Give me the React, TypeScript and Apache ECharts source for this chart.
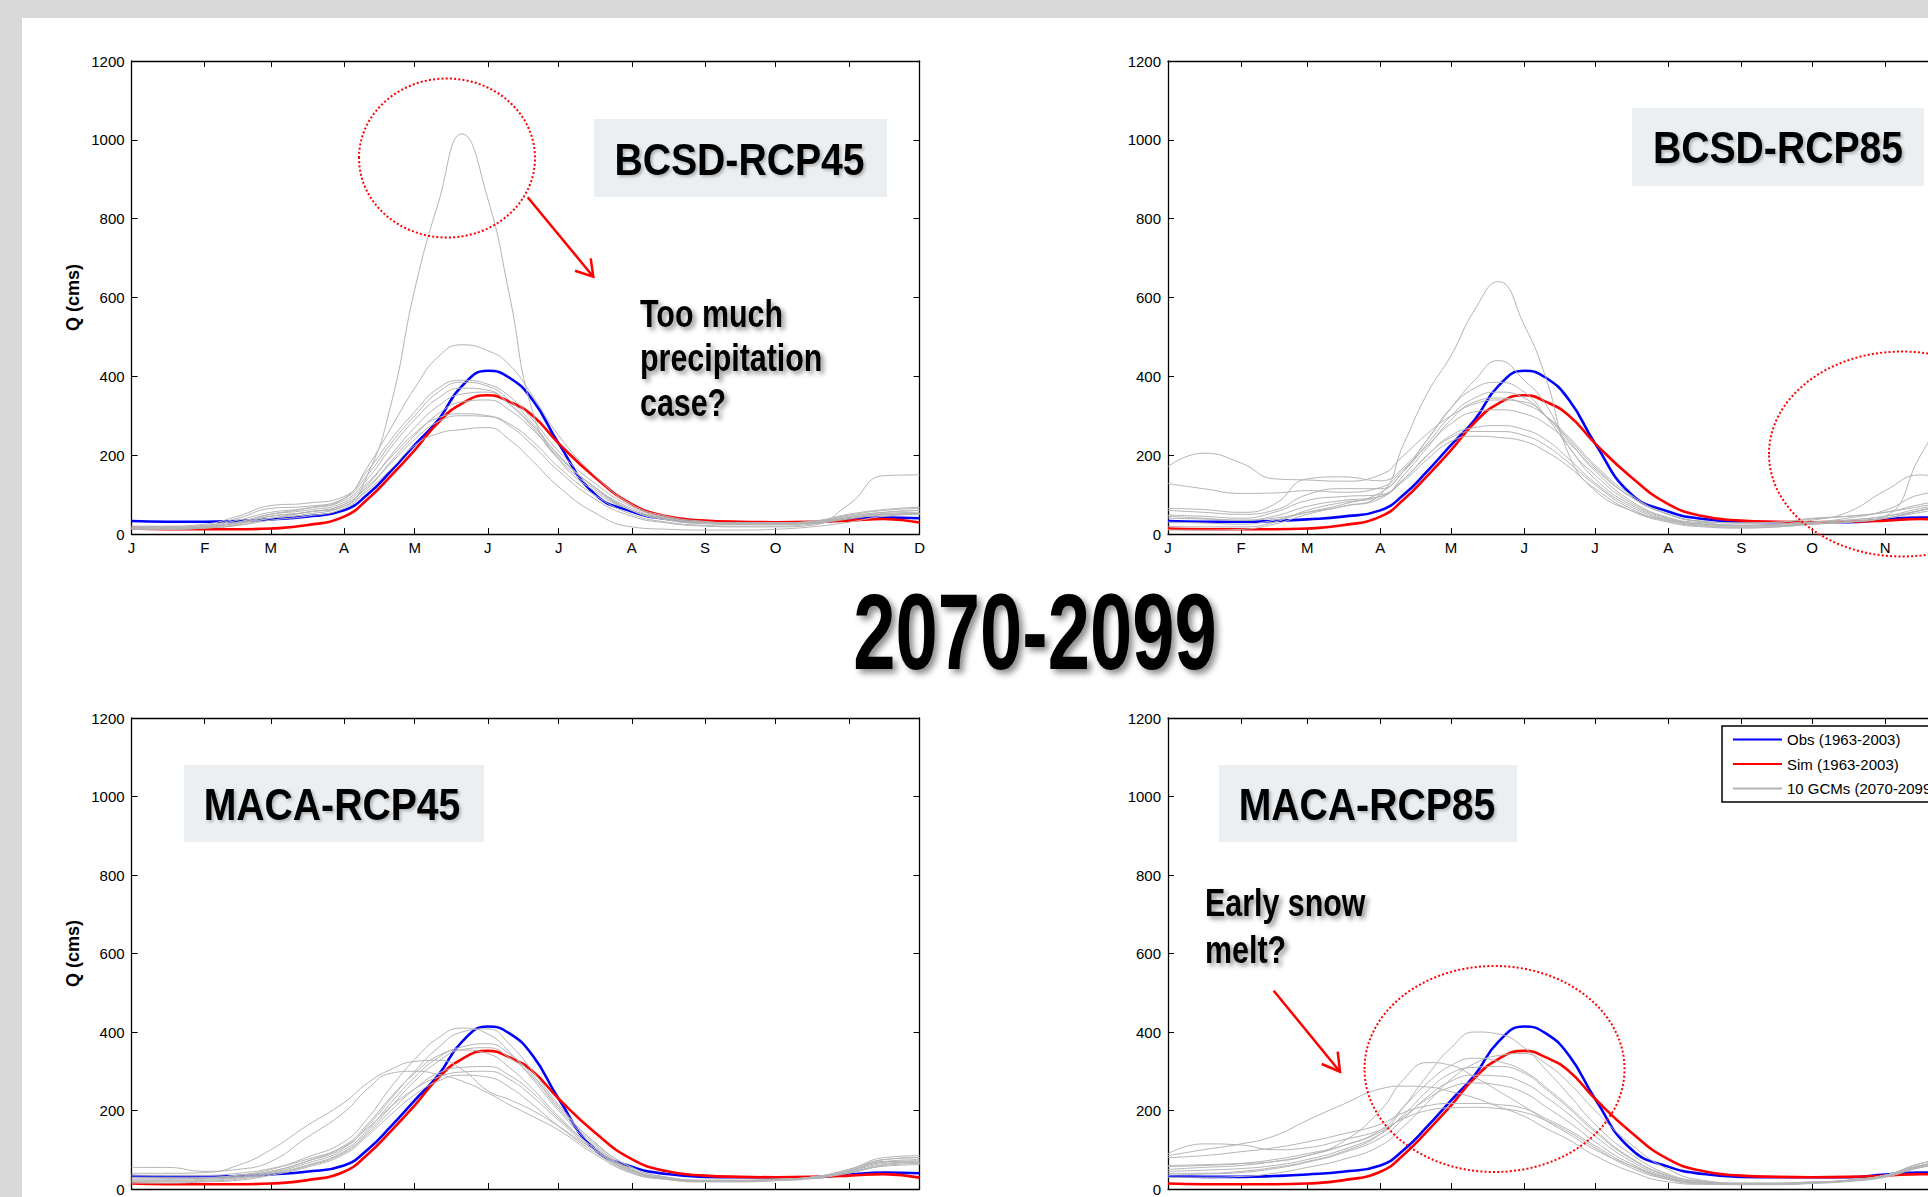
import React, { useEffect, useRef } from "react";
import * as echarts from "echarts";

// ---------------- data ----------------
// day of year (0 = Jan 1) at which every curve was read
const days = [0, 15, 31, 45, 59, 74, 90, 100, 110, 120, 130, 140, 151, 160, 170, 181, 196, 212, 227, 243, 258, 273, 288, 304, 319, 334];
const monthTicks = [0, 31, 59, 90, 120, 151, 181, 212, 243, 273, 304, 334];
const monthLabels = ["J", "F", "M", "A", "M", "J", "J", "A", "S", "O", "N", "D"];

const obsQ = [33, 31, 31, 33, 37, 44, 60, 100, 160, 226, 290, 375, 414, 397, 340, 230, 103, 57, 38, 31, 30, 30, 30, 37, 42, 40];
const simQ = [14, 12, 12, 12, 14, 22, 44, 88, 148, 213, 283, 331, 352, 336, 300, 230, 146, 76, 45, 34, 31, 30, 31, 34, 38, 29];

const gcmBcsd45 = [
  [20, 18, 20, 28, 40, 55, 70, 150, 330, 620, 840, 1015, 850, 611, 310, 190, 110, 60, 40, 30, 28, 28, 30, 40, 50, 50],
  [15, 15, 18, 30, 50, 65, 90, 170, 270, 370, 450, 480, 465, 430, 350, 250, 150, 75, 45, 32, 28, 28, 30, 45, 55, 60],
  [20, 20, 25, 45, 72, 78, 95, 160, 240, 310, 370, 390, 380, 350, 290, 210, 130, 70, 42, 30, 28, 28, 32, 50, 62, 68],
  [18, 18, 22, 40, 65, 70, 90, 150, 230, 300, 360, 385, 375, 340, 280, 200, 120, 65, 40, 30, 28, 28, 32, 48, 60, 65],
  [15, 15, 20, 35, 55, 65, 85, 140, 220, 290, 345, 370, 365, 330, 270, 190, 115, 60, 38, 28, 26, 26, 30, 45, 55, 60],
  [12, 12, 15, 25, 45, 55, 75, 125, 200, 270, 325, 355, 360, 330, 275, 200, 120, 60, 36, 27, 25, 25, 28, 42, 52, 55],
  [12, 12, 15, 22, 40, 50, 70, 115, 185, 250, 305, 335, 340, 315, 265, 195, 120, 60, 36, 26, 24, 24, 27, 40, 50, 52],
  [15, 15, 18, 30, 50, 60, 80, 130, 195, 255, 295, 305, 300, 280, 235, 170, 100, 50, 30, 22, 20, 20, 25, 38, 48, 50],
  [15, 15, 18, 28, 45, 55, 75, 120, 180, 240, 285, 300, 298, 275, 225, 160, 90, 45, 28, 20, 18, 18, 22, 75, 148, 150],
  [14, 14, 16, 22, 35, 45, 65, 110, 165, 225, 255, 265, 270, 240, 185, 120, 55, 18, 12, 10, 10, 12, 18, 30, 45, 50],
];

const gcmBcsd85 = [
  [45, 40, 35, 40, 55, 70, 100, 230, 358, 453, 569, 640, 530, 399, 200, 110, 60, 35, 25, 22, 25, 30, 35, 45, 60, 80],
  [30, 28, 25, 35, 55, 75, 105, 160, 240, 320, 390, 440, 390, 330, 220, 150, 80, 40, 25, 20, 22, 25, 30, 40, 60, 85],
  [171, 205, 180, 140, 137, 134, 150, 200, 255, 300, 330, 340, 335, 300, 240, 170, 95, 50, 32, 28, 30, 40, 45, 55, 75, 90],
  [128, 115, 103, 104, 110, 106, 118, 165, 225, 280, 310, 315, 305, 280, 230, 165, 95, 50, 32, 28, 30, 38, 45, 55, 70, 85],
  [65, 62, 55, 75, 140, 145, 135, 170, 240, 320, 370, 385, 360, 300, 220, 140, 75, 38, 25, 22, 25, 35, 55, 110, 150, 120],
  [60, 55, 50, 60, 100, 115, 115, 160, 230, 300, 345, 360, 345, 300, 235, 160, 85, 42, 28, 22, 24, 30, 40, 60, 100, 110],
  [48, 45, 40, 55, 85, 95, 100, 140, 200, 250, 270, 275, 265, 240, 190, 130, 70, 35, 22, 18, 20, 28, 35, 45, 65, 80],
  [40, 38, 35, 45, 70, 85, 95, 140, 200, 245, 260, 260, 250, 225, 180, 125, 65, 32, 20, 16, 18, 25, 32, 40, 60, 75],
  [19, 18, 18, 30, 60, 80, 95, 135, 190, 235, 248, 245, 235, 210, 170, 115, 60, 30, 18, 15, 18, 25, 30, 40, 55, 70],
  [10, 10, 12, 25, 50, 70, 90, 150, 220, 290, 335, 345, 330, 300, 245, 175, 100, 50, 30, 22, 22, 26, 30, 45, 200, 350],
];

const gcmMaca45 = [
  [40, 40, 42, 60, 100, 160, 220, 270, 305, 325, 328, 305, 250, 228, 200, 160, 100, 45, 28, 22, 22, 24, 28, 45, 70, 65],
  [55, 55, 45, 50, 70, 130, 195, 255, 295, 300, 292, 275, 245, 215, 185, 150, 90, 40, 25, 20, 20, 22, 28, 45, 75, 80],
  [30, 30, 30, 35, 50, 80, 120, 180, 260, 330, 385, 410, 395, 350, 280, 200, 110, 50, 28, 22, 22, 24, 30, 50, 80, 85],
  [25, 25, 28, 35, 45, 70, 105, 160, 230, 300, 360, 400, 408, 370, 300, 215, 120, 55, 30, 22, 22, 25, 30, 50, 75, 80],
  [22, 22, 25, 30, 42, 65, 100, 150, 220, 285, 335, 362, 370, 345, 290, 210, 120, 55, 30, 22, 22, 24, 30, 48, 70, 75],
  [20, 20, 22, 28, 40, 60, 95, 145, 210, 275, 325, 355, 360, 335, 285, 205, 115, 50, 28, 21, 21, 24, 30, 45, 65, 70],
  [28, 28, 28, 32, 45, 70, 110, 165, 235, 295, 340, 354, 345, 310, 255, 185, 105, 48, 27, 20, 20, 23, 28, 45, 68, 72],
  [18, 18, 20, 25, 38, 58, 92, 140, 200, 255, 295, 310, 312, 290, 245, 180, 105, 48, 26, 20, 20, 23, 28, 42, 62, 68],
  [35, 35, 35, 40, 52, 75, 108, 155, 210, 255, 285, 298, 300, 280, 235, 175, 100, 45, 25, 19, 19, 22, 28, 42, 60, 65],
  [15, 15, 18, 22, 35, 55, 88, 135, 190, 240, 275, 290, 285, 260, 215, 160, 95, 42, 24, 18, 18, 21, 26, 40, 58, 62],
];

const gcmMaca85 = [
  [40, 40, 45, 55, 70, 95, 140, 210, 290, 360, 400, 395, 360, 305, 240, 165, 90, 38, 20, 15, 15, 18, 22, 35, 65, 80],
  [60, 62, 65, 70, 85, 120, 200, 280, 322, 315, 285, 250, 210, 175, 140, 100, 60, 28, 16, 14, 14, 17, 22, 35, 60, 75],
  [85, 100, 115, 135, 175, 215, 255, 262, 260, 248, 232, 210, 185, 155, 125, 85, 45, 18, 12, 12, 13, 16, 22, 35, 65, 80],
  [30, 30, 32, 40, 55, 75, 110, 160, 220, 280, 320, 340, 345, 320, 270, 200, 115, 50, 22, 15, 15, 18, 22, 35, 60, 75],
  [50, 55, 60, 70, 85, 110, 150, 210, 270, 315, 333, 325, 300, 260, 210, 150, 80, 35, 18, 14, 14, 17, 22, 35, 60, 75],
  [45, 48, 52, 60, 75, 100, 140, 190, 250, 295, 310, 312, 295, 255, 205, 145, 78, 33, 18, 14, 14, 17, 22, 35, 58, 72],
  [35, 38, 42, 52, 68, 92, 130, 180, 235, 275, 290, 288, 270, 235, 190, 135, 72, 30, 16, 13, 13, 16, 21, 33, 55, 70],
  [57, 60, 65, 75, 90, 110, 145, 185, 230, 260, 270, 265, 245, 210, 170, 120, 65, 28, 15, 12, 12, 15, 20, 32, 55, 68],
  [80, 85, 95, 105, 120, 140, 165, 195, 212, 218, 218, 215, 205, 180, 150, 110, 60, 25, 14, 12, 12, 15, 20, 32, 58, 72],
  [90, 115, 112, 100, 105, 125, 150, 180, 200, 207, 208, 205, 195, 175, 145, 105, 55, 24, 13, 11, 11, 14, 19, 30, 55, 70],
];

const panelTitles = ["BCSD-RCP45", "BCSD-RCP85", "MACA-RCP45", "MACA-RCP85"];
const legendNames = ["Obs (1963-2003)", "Sim (1963-2003)", "10 GCMs (2070-2099)"];
const mainTitle = "2070-2099";
const yAxisTitle = "Q (cms)";
const noteTopLeft = ["Too much", "precipitation", "case?"];
const noteBottomRight = ["Early snow", "melt?"];
const yMin = 0;
const yMax = 1200;
const yStep = 200;

// ---------------- presentation ----------------
const FONT = '"Liberation Sans", Arial, Helvetica, sans-serif';
const OBS_COLOR = "#0000ff";
const SIM_COLOR = "#ff0000";
const GCM_COLOR = "#b4b4b4";
const BOX_FILL = "#ebeff2";
const VIEW_W = 1928;

export default function App() {
  const ref = useRef<HTMLDivElement>(null);

  useEffect(() => {
    document.body.style.margin = "0";
    const chart = echarts.init(ref.current as HTMLDivElement, null, { renderer: "svg" });

    // the page photo cuts the right-hand plots and the lower x labels off, as in the reference
    const layouts = [
      { left: 131.6, top: 61, height: 473, yName: true, xLabels: true, gcm: gcmBcsd45 },
      { left: 1168, top: 61, height: 473, yName: false, xLabels: true, gcm: gcmBcsd85 },
      { left: 131.6, top: 718, height: 471, yName: true, xLabels: false, gcm: gcmMaca45 },
      { left: 1168, top: 718, height: 471, yName: false, xLabels: false, gcm: gcmMaca85 },
    ];
    const plotW = 788;
    const pts = (vals: number[]) => days.map((d, k) => [d, vals[k]]);
    const axisLineStyle = { color: "#000", width: 1.3 };

    const grid: any[] = [];
    const xAxis: any[] = [];
    const yAxis: any[] = [];
    const series: any[] = [];

    layouts.forEach((L, i) => {
      grid.push({ left: L.left, top: L.top, width: plotW, height: L.height, show: false, containLabel: false, outerBoundsMode: "none" });
      // only labels that fall inside the photographed page
      const visibleLabelDays = monthTicks.filter((d) => L.left + (d / 334) * plotW + 6 < VIEW_W);
      ["bottom", "top"].forEach((pos) => {
        xAxis.push({
          gridIndex: i,
          type: "value",
          position: pos,
          min: 0,
          max: 334,
          axisLine: { show: true, onZero: false, lineStyle: axisLineStyle },
          axisTick: { show: true, inside: true, length: 6, customValues: monthTicks, lineStyle: { color: "#000", width: 1 } },
          axisLabel: {
            show: pos === "bottom" && L.xLabels,
            customValues: visibleLabelDays,
            formatter: (v: number) => monthLabels[monthTicks.indexOf(v)] ?? "",
            color: "#000",
            fontSize: 15,
            fontFamily: FONT,
            margin: 6,
          },
          splitLine: { show: false },
        });
      });
      ["left", "right"].forEach((pos) => {
        yAxis.push({
          gridIndex: i,
          type: "value",
          position: pos,
          min: yMin,
          max: yMax,
          interval: yStep,
          name: pos === "left" && L.yName ? yAxisTitle : "",
          nameLocation: "middle",
          nameGap: 50,
          nameRotate: 90,
          nameTextStyle: { fontSize: 18, fontWeight: "bold", color: "#000", fontFamily: FONT },
          axisLine: { show: true, onZero: false, lineStyle: axisLineStyle },
          axisTick: { show: true, inside: true, length: 6, lineStyle: { color: "#000", width: 1 } },
          axisLabel: { show: pos === "left", color: "#000", fontSize: 15, fontFamily: FONT, margin: 7, formatter: (v: number) => String(v) },
          splitLine: { show: false },
        });
      });
      const common = { xAxisIndex: 2 * i, yAxisIndex: 2 * i, symbol: "none", showSymbol: false, smooth: 0.5, silent: true };
      series.push({ ...common, type: "line", name: legendNames[0], data: pts(obsQ), lineStyle: { color: OBS_COLOR, width: 2.6 }, itemStyle: { color: OBS_COLOR } });
      series.push({ ...common, type: "line", name: legendNames[1], data: pts(simQ), lineStyle: { color: SIM_COLOR, width: 2.6 }, itemStyle: { color: SIM_COLOR } });
      L.gcm.forEach((g) => {
        series.push({ ...common, type: "line", name: legendNames[2], data: pts(g), lineStyle: { color: GCM_COLOR, width: 1 }, itemStyle: { color: GCM_COLOR } });
      });
    });

    const shadow = { textShadowColor: "rgba(0,0,0,0.45)", textShadowBlur: 5, textShadowOffsetX: 3, textShadowOffsetY: 3 };
    const boxes = [
      { x: 594, y: 119, w: 293, h: 78, tx: 739.5, ty: 160 },
      { x: 1632, y: 108, w: 292, h: 78, tx: 1778, ty: 148 },
      { x: 184, y: 765, w: 300, h: 77, tx: 332, ty: 805 },
      { x: 1219, y: 765, w: 298, h: 77, tx: 1367, ty: 805 },
    ];
    const graphic: any[] = [];
    boxes.forEach((b, i) => {
      graphic.push({ type: "rect", z: 50, shape: { x: b.x, y: b.y, width: b.w, height: b.h }, style: { fill: BOX_FILL } });
      graphic.push({
        type: "text", z: 51, x: b.tx, y: b.ty, scaleX: 0.87,
        style: { text: panelTitles[i], font: `bold 45px ${FONT}`, fill: "#000", textAlign: "center", textVerticalAlign: "middle", textShadowColor: "rgba(0,0,0,0.25)", textShadowBlur: 3, textShadowOffsetX: 2, textShadowOffsetY: 2 },
      });
    });
    graphic.push({
      type: "text", z: 60, x: 1035, y: 632.5, scaleX: 0.71,
      style: { text: mainTitle, font: `bold 107px ${FONT}`, fill: "#000", textAlign: "center", textVerticalAlign: "middle", ...shadow, textShadowOffsetX: 4, textShadowOffsetY: 4, textShadowBlur: 6 },
    });
    const tlBase = [327, 371, 416];
    noteTopLeft.forEach((t, k) => {
      graphic.push({ type: "text", z: 60, x: 640, y: tlBase[k] - 13.3, scaleX: 0.8, style: { text: t, font: `bold 38px ${FONT}`, fill: "#000", textAlign: "left", textVerticalAlign: "middle", ...shadow } });
    });
    const brBase = [916.5, 963];
    noteBottomRight.forEach((t, k) => {
      graphic.push({ type: "text", z: 60, x: 1205, y: brBase[k] - 13.3, scaleX: 0.8, style: { text: t, font: `bold 38px ${FONT}`, fill: "#000", textAlign: "left", textVerticalAlign: "middle", ...shadow } });
    });
    const red = { stroke: "#ff0000", lineWidth: 2.5, fill: "none" };
    graphic.push({ type: "line", z: 60, shape: { x1: 527.7, y1: 197.3, x2: 593.3, y2: 276.7 }, style: red });
    graphic.push({ type: "polyline", z: 60, shape: { points: [[575, 270.7], [593.3, 276.7], [590.7, 258.3]] }, style: red });
    graphic.push({ type: "line", z: 60, shape: { x1: 1273.7, y1: 990.7, x2: 1340, y2: 1071.7 }, style: red });
    graphic.push({ type: "polyline", z: 60, shape: { points: [[1321.7, 1064], [1340, 1071.7], [1337.7, 1051.7]] }, style: red });
    const dotted = { stroke: "#ff0000", lineWidth: 2, fill: "none", lineDash: [2, 2.2] };
    graphic.push({ type: "ellipse", z: 60, shape: { cx: 447, cy: 158, rx: 88, ry: 79.5 }, style: dotted });
    graphic.push({ type: "ellipse", z: 60, shape: { cx: 1902, cy: 454, rx: 133, ry: 102.5 }, style: dotted });
    graphic.push({ type: "ellipse", z: 60, shape: { cx: 1494.5, cy: 1069, rx: 130, ry: 103 }, style: dotted });

    chart.setOption({
      animation: false,
      grid,
      xAxis,
      yAxis,
      series,
      graphic,
      legend: {
        show: true,
        data: legendNames,
        orient: "vertical",
        left: 1722,
        top: 726,
        itemWidth: 49,
        itemHeight: 14,
        itemGap: 9.5,
        padding: [6, 10, 6, 10],
        borderColor: "#000",
        borderWidth: 1.5,
        backgroundColor: "#fff",
        selectedMode: false,
        itemStyle: { opacity: 0, borderWidth: 0 },
        textStyle: { fontSize: 15, color: "#000", fontFamily: FONT },
      },
    });
    return () => chart.dispose();
  }, []);

  return (
    <div style={{ position: "fixed", left: 0, top: 0, width: 1928, height: 1197, background: "#d9d9d9", overflow: "hidden" }}>
      <div style={{ position: "absolute", left: 22, top: 18, right: 0, bottom: 0, background: "#ffffff" }} />
      <div ref={ref} style={{ position: "absolute", left: 0, top: 0, width: 1928, height: 1197 }} />
    </div>
  );
}
